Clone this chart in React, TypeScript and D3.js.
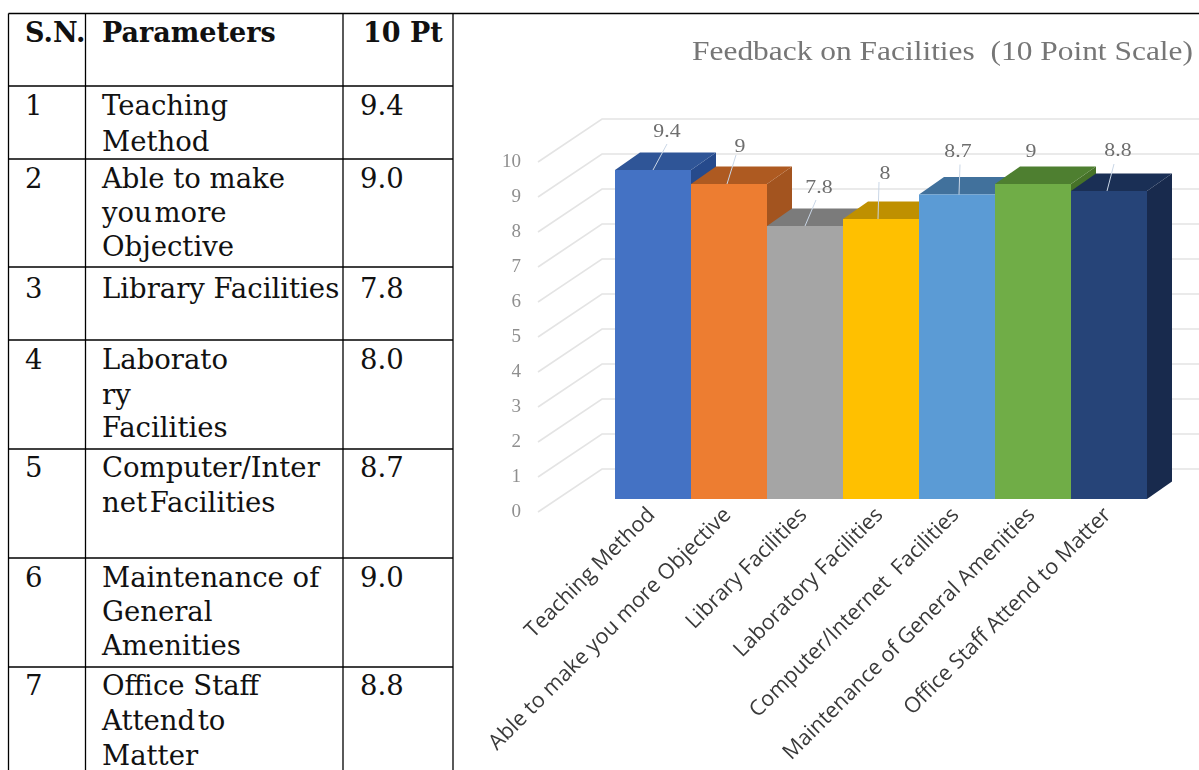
import React, { useEffect, useRef } from 'react';
import * as d3 from 'd3';

const categories = [
  'Teaching Method',
  'Able to make you more Objective',
  'Library Facilities',
  'Laboratory Facilities',
  'Computer/Internet  Facilities',
  'Maintenance of General Amenities',
  'Office Staff Attend to Matter',
];
const scores = [9.4, 9, 7.8, 8, 8.7, 9, 8.8];
const yTicks = [0, 1, 2, 3, 4, 5, 6, 7, 8, 9, 10];

const frontColors = ['#4472c4', '#ed7d31', '#a5a5a5', '#ffc000', '#5b9bd5', '#70ad47', '#264478'];
const topColors = ['#2f5597', '#ae5a21', '#7b7b7b', '#bf9000', '#41719c', '#4e7f30', '#1a2f55'];
const sideColors = ['#264a8c', '#a3541f', '#6f6f6f', '#ad8200', '#3a6a94', '#467229', '#182a4d'];

// where the data labels sit, relative to the bar centre and its front top edge
const labelDx = [14, 11, 14, 4, 1, -2, 9];
const labelDy = [-33, -32, -33, -40, -38, -27, -35];
const leaderDx = [0, -2, 0, -3, 2, 0, -2];
const leaderTopDx = [14, 9, 11, 1, 1, 0, 7];
const leaderTopDy = [-26, -29, -26, -37, -30, 0, -27];

const headers = ['S.N.', 'Parameters', '10 Pt'];
const serials = ['1', '2', '3', '4', '5', '6', '7'];
const paramLines = [
  ['Teaching', 'Method'],
  ['Able to make', 'you more', 'Objective'],
  ['Library Facilities'],
  ['Laborato', 'ry', 'Facilities'],
  ['Computer/Inter', 'net Facilities'],
  ['Maintenance of', 'General', 'Amenities'],
  ['Office Staff', 'Attend to', 'Matter'],
];
const tableValues = ['9.4', '9.0', '7.8', '8.0', '8.7', '9.0', '8.8'];

const rowEdges = [13.5, 86, 159, 267, 340, 449, 558, 667];
const colEdges = [8.5, 85.5, 343, 453];
const rowBaselines = [
  [115, 151],
  [188, 222, 256],
  [298],
  [369, 404, 437],
  [477, 512],
  [587, 621, 655],
  [695, 730, 765],
];

const WIDTH = 1199;
const HEIGHT = 770;
const SERIF = '"DejaVu Serif", serif';
const TIGHT_LINES = ['you more', 'net Facilities', 'Attend to'];

const App: React.FC = () => {
  const ref = useRef<SVGSVGElement>(null);

  useEffect(() => {
    const svg = d3.select(ref.current);
    svg.selectAll('*').remove();

    // table
    const table = svg.append('g').attr('fill', '#111').style('font-family', SERIF).style('font-size', '27.5px');
    const tableLine = (x1: number, y1: number, x2: number, y2: number) =>
      table.append('line').attr('x1', x1).attr('y1', y1).attr('x2', x2).attr('y2', y2)
        .attr('stroke', '#000').attr('stroke-width', 1.3);

    tableLine(colEdges[0], rowEdges[0], WIDTH, rowEdges[0]);
    rowEdges.slice(1).forEach(y => tableLine(colEdges[0], y, colEdges[3], y));
    colEdges.forEach(x => tableLine(x, rowEdges[0], x, HEIGHT));

    const headerX = [25, 102, 363];
    table.selectAll('text.head')
      .data(headers)
      .enter()
      .append('text')
      .attr('class', 'head')
      .attr('x', (_, i) => headerX[i])
      .attr('y', 42)
      .style('font-size', '27px')
      .style('font-weight', 'bold')
      .text(d => d);

    serials.forEach((s, i) => {
      const first = rowBaselines[i][0];
      table.append('text').attr('x', 25).attr('y', first).text(s);
      table.append('text').attr('x', 360).attr('y', first).text(tableValues[i]);
      paramLines[i].forEach((line, j) => {
        table.append('text')
          .attr('x', 102)
          .attr('y', rowBaselines[i][j])
          .style('word-spacing', TIGHT_LINES.includes(line) ? '-6px' : '0')
          .text(line);
      });
    });

    // chart
    const x = d3.scaleBand<string>().domain(categories).range([615, 1147]);
    const y = d3.scaleLinear().domain([0, 10]).range([499, 149]);
    const depthX = 25;
    const depthY = -17.5;
    const wallX = 64;
    const wallY = -43;
    const floorX = 538;
    const mid = (i: number) => x(categories[i])! + x.bandwidth() / 2;

    const chart = svg.append('g').style('filter', 'blur(0.5px)');

    chart.append('text')
      .attr('x', 692)
      .attr('y', 60)
      .attr('fill', '#767676')
      .attr('textLength', 501)
      .attr('lengthAdjust', 'spacingAndGlyphs')
      .style('font-family', '"Liberation Serif", serif')
      .style('font-size', '28px')
      .style('white-space', 'pre')
      .text('Feedback on Facilities  (10 Point Scale)');

    // back wall and side wall gridlines
    const grid = chart.append('g').attr('fill', 'none').attr('stroke', '#e4e4e4').attr('stroke-width', 1.6);
    grid.selectAll('path')
      .data(yTicks)
      .enter()
      .append('path')
      .attr('d', d => {
        const sy = y(d) + 13;
        return d3.line()([[floorX, sy], [floorX + wallX, sy + wallY], [WIDTH, sy + wallY]]);
      });

    chart.append('g').selectAll('text')
      .data(yTicks)
      .enter()
      .append('text')
      .attr('x', 521)
      .attr('y', d => y(d) + 18)
      .attr('text-anchor', 'end')
      .attr('fill', '#8f8f8f')
      .style('font-family', '"Liberation Serif", serif')
      .style('font-size', '19px')
      .text(d => d);

    // 3d bars, left to right so each one hides the side of the previous
    const bars = chart.append('g').selectAll('g')
      .data(categories)
      .enter()
      .append('g');

    const poly = d3.line();
    bars.append('path')
      .attr('fill', (_, i) => sideColors[i])
      .attr('d', (d, i) => {
        const r = x(d)! + x.bandwidth();
        return poly([[r, y(scores[i])], [r + depthX, y(scores[i]) + depthY], [r + depthX, y(0) + depthY], [r, y(0)]]) + 'Z';
      });
    bars.append('path')
      .attr('fill', (_, i) => topColors[i])
      .attr('d', (d, i) => {
        const l = x(d)!;
        const r = l + x.bandwidth();
        const t = y(scores[i]);
        return poly([[l, t], [l + depthX, t + depthY], [r + depthX, t + depthY], [r, t]]) + 'Z';
      });
    bars.append('rect')
      .attr('x', d => x(d)!)
      .attr('y', (_, i) => y(scores[i]))
      .attr('width', x.bandwidth())
      .attr('height', (_, i) => y(0) - y(scores[i]))
      .attr('fill', (_, i) => frontColors[i]);

    // leader lines and value labels
    scores.forEach((v, i) => {
      if (leaderTopDy[i] !== 0) {
        chart.append('line')
          .attr('x1', mid(i) + leaderDx[i])
          .attr('y1', y(v))
          .attr('x2', mid(i) + leaderDx[i] + leaderTopDx[i])
          .attr('y2', y(v) + leaderTopDy[i])
          .attr('stroke', '#c9d6e6')
          .attr('stroke-width', 1);
      }
      chart.append('text')
        .attr('transform', `translate(${mid(i) + labelDx[i]}, ${y(v) + labelDy[i]}) scale(1.15, 1)`)
        .attr('text-anchor', 'middle')
        .attr('fill', '#6e6e6e')
        .style('font-family', '"Liberation Serif", serif')
        .style('font-size', '19px')
        .text(v);
    });

    // rotated category labels
    chart.append('g').selectAll('text')
      .data(categories)
      .enter()
      .append('text')
      .attr('transform', d => `translate(${x(d)! + x.bandwidth() / 2 + 3}, ${y(0) + 17}) rotate(-45)`)
      .attr('text-anchor', 'end')
      .attr('fill', '#3a3a3a')
      .style('font-family', '"Open Sans", sans-serif')
      .style('font-size', '21.5px')
      .style('white-space', 'pre')
      .text(d => d);
  }, []);

  return (
    <svg
      ref={ref}
      width={WIDTH}
      height={HEIGHT}
      style={{ position: 'absolute', left: 0, top: 0, display: 'block', background: '#fff' }}
    />
  );
};

export default App;
